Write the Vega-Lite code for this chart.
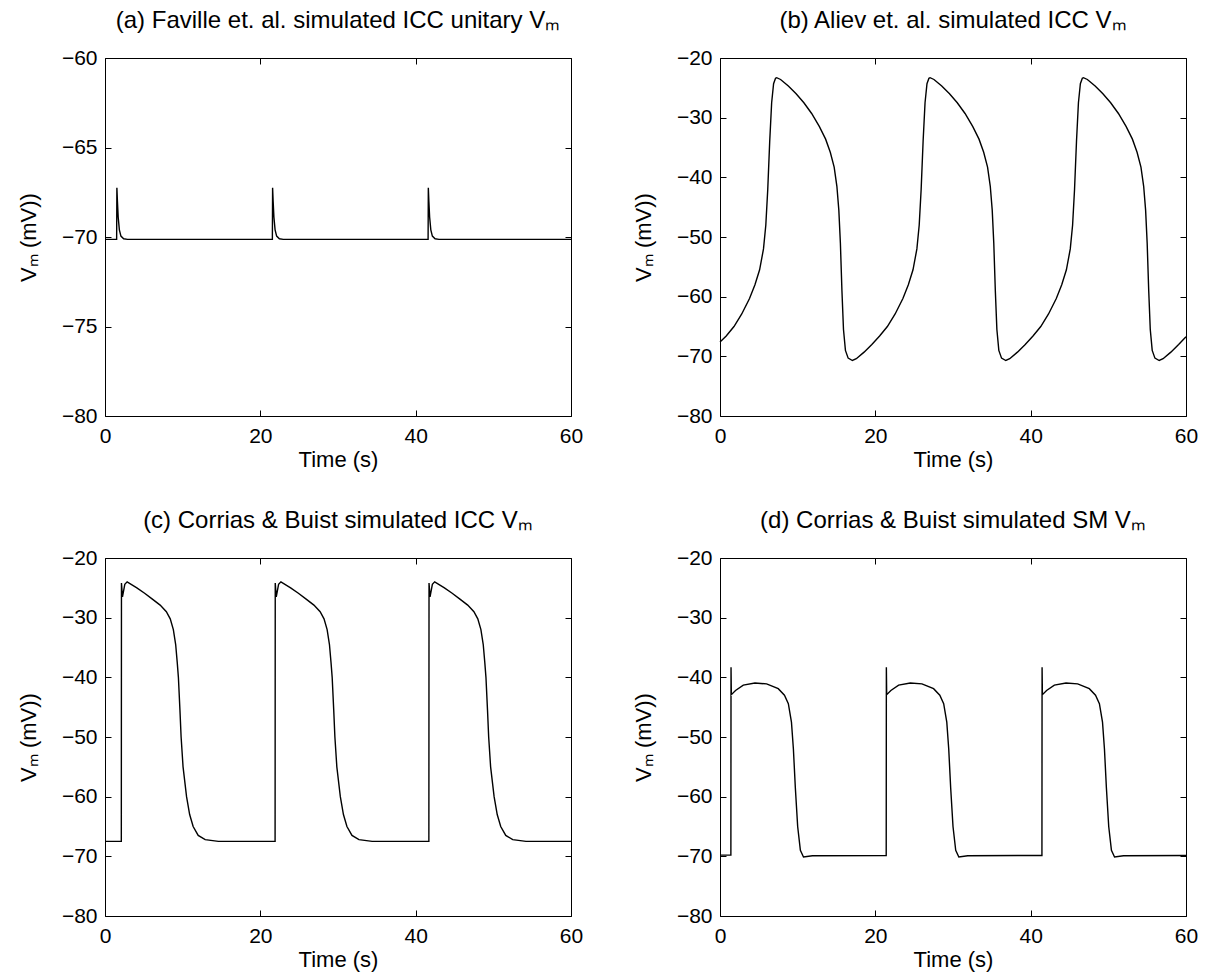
{
  "$schema": "https://vega.github.io/schema/vega-lite/v6.json",
  "padding": {"left": 16, "top": 8, "right": 5, "bottom": 5},
  "background": "white",
  "datasets": {
    "a": [
      {"t": 0, "v": -70.13}, {"t": 1.5, "v": -70.13}, {"t": 1.53, "v": -67.25}, {"t": 1.6, "v": -68.0}, {"t": 1.7, "v": -68.9}, {"t": 1.85, "v": -69.6}, {"t": 2.05, "v": -69.95}, {"t": 2.4, "v": -70.1}, {"t": 2.9, "v": -70.13},
      {"t": 21.55, "v": -70.13}, {"t": 21.58, "v": -67.25}, {"t": 21.65, "v": -68.0}, {"t": 21.75, "v": -68.9}, {"t": 21.9, "v": -69.6}, {"t": 22.1, "v": -69.95}, {"t": 22.45, "v": -70.1}, {"t": 22.95, "v": -70.13},
      {"t": 41.6, "v": -70.13}, {"t": 41.63, "v": -67.25}, {"t": 41.7, "v": -68.0}, {"t": 41.8, "v": -68.9}, {"t": 41.95, "v": -69.6}, {"t": 42.15, "v": -69.95}, {"t": 42.5, "v": -70.1}, {"t": 43.0, "v": -70.13},
      {"t": 60, "v": -70.13}
    ],
    "b": [
      {"t": 0, "v": -67.6}, {"t": 0.8, "v": -66.6}, {"t": 1.8, "v": -65.0}, {"t": 2.8, "v": -62.9}, {"t": 3.8, "v": -60.3}, {"t": 4.5, "v": -58.0}, {"t": 5.1, "v": -55.5}, {"t": 5.6, "v": -52}, {"t": 5.9, "v": -48}, {"t": 6.15, "v": -42}, {"t": 6.4, "v": -34}, {"t": 6.65, "v": -27.5}, {"t": 6.9, "v": -24.3}, {"t": 7.15, "v": -23.4}, {"t": 7.3, "v": -23.3},
      {"t": 7.8, "v": -23.6}, {"t": 8.8, "v": -24.7}, {"t": 9.8, "v": -26.0}, {"t": 10.8, "v": -27.5}, {"t": 11.8, "v": -29.3}, {"t": 12.8, "v": -31.5}, {"t": 13.6, "v": -33.6}, {"t": 14.2, "v": -35.8}, {"t": 14.7, "v": -38.3}, {"t": 15.05, "v": -41.5}, {"t": 15.3, "v": -45.5}, {"t": 15.5, "v": -51}, {"t": 15.7, "v": -59}, {"t": 15.9, "v": -65.5}, {"t": 16.15, "v": -69.0}, {"t": 16.5, "v": -70.3}, {"t": 17.05, "v": -70.7},
      {"t": 17.55, "v": -70.4}, {"t": 18.55, "v": -69.3}, {"t": 19.55, "v": -68.0}, {"t": 20.55, "v": -66.6}, {"t": 21.55, "v": -65.0}, {"t": 22.55, "v": -62.9}, {"t": 23.55, "v": -60.3}, {"t": 24.25, "v": -58.0}, {"t": 24.85, "v": -55.5}, {"t": 25.35, "v": -52}, {"t": 25.65, "v": -48}, {"t": 25.9, "v": -42}, {"t": 26.15, "v": -34}, {"t": 26.4, "v": -27.5}, {"t": 26.65, "v": -24.3}, {"t": 26.9, "v": -23.4}, {"t": 27.05, "v": -23.3},
      {"t": 27.55, "v": -23.6}, {"t": 28.55, "v": -24.7}, {"t": 29.55, "v": -26.0}, {"t": 30.55, "v": -27.5}, {"t": 31.55, "v": -29.3}, {"t": 32.55, "v": -31.5}, {"t": 33.35, "v": -33.6}, {"t": 33.95, "v": -35.8}, {"t": 34.45, "v": -38.3}, {"t": 34.8, "v": -41.5}, {"t": 35.05, "v": -45.5}, {"t": 35.25, "v": -51}, {"t": 35.45, "v": -59}, {"t": 35.65, "v": -65.5}, {"t": 35.9, "v": -69.0}, {"t": 36.25, "v": -70.3}, {"t": 36.8, "v": -70.7},
      {"t": 37.3, "v": -70.4}, {"t": 38.3, "v": -69.3}, {"t": 39.3, "v": -68.0}, {"t": 40.3, "v": -66.6}, {"t": 41.3, "v": -65.0}, {"t": 42.3, "v": -62.9}, {"t": 43.3, "v": -60.3}, {"t": 44.0, "v": -58.0}, {"t": 44.6, "v": -55.5}, {"t": 45.1, "v": -52}, {"t": 45.4, "v": -48}, {"t": 45.65, "v": -42}, {"t": 45.9, "v": -34}, {"t": 46.15, "v": -27.5}, {"t": 46.4, "v": -24.3}, {"t": 46.65, "v": -23.4}, {"t": 46.8, "v": -23.3},
      {"t": 47.3, "v": -23.6}, {"t": 48.3, "v": -24.7}, {"t": 49.3, "v": -26.0}, {"t": 50.3, "v": -27.5}, {"t": 51.3, "v": -29.3}, {"t": 52.3, "v": -31.5}, {"t": 53.1, "v": -33.6}, {"t": 53.7, "v": -35.8}, {"t": 54.2, "v": -38.3}, {"t": 54.55, "v": -41.5}, {"t": 54.8, "v": -45.5}, {"t": 55.0, "v": -51}, {"t": 55.2, "v": -59}, {"t": 55.4, "v": -65.5}, {"t": 55.65, "v": -69.0}, {"t": 56.0, "v": -70.3}, {"t": 56.55, "v": -70.7},
      {"t": 57.05, "v": -70.4}, {"t": 58.05, "v": -69.3}, {"t": 59.05, "v": -68.0}, {"t": 60, "v": -66.7}
    ],
    "c": [
      {"t": 0, "v": -67.5}, {"t": 2.1, "v": -67.5}, {"t": 2.12, "v": -24.2}, {"t": 2.25, "v": -26.5}, {"t": 2.55, "v": -24.4}, {"t": 2.85, "v": -24.0}, {"t": 4.1, "v": -25.0}, {"t": 5.1, "v": -25.9}, {"t": 6.1, "v": -26.9}, {"t": 7.1, "v": -27.9}, {"t": 7.9, "v": -29.0}, {"t": 8.4, "v": -30.2}, {"t": 8.8, "v": -32.0}, {"t": 9.1, "v": -34.5}, {"t": 9.3, "v": -37.5}, {"t": 9.45, "v": -40}, {"t": 9.65, "v": -45.5}, {"t": 9.8, "v": -50}, {"t": 10.05, "v": -55}, {"t": 10.5, "v": -60}, {"t": 10.9, "v": -63}, {"t": 11.35, "v": -65}, {"t": 12.0, "v": -66.5}, {"t": 12.9, "v": -67.2}, {"t": 14.6, "v": -67.5},
      {"t": 21.9, "v": -67.5}, {"t": 21.92, "v": -24.2}, {"t": 22.05, "v": -26.5}, {"t": 22.35, "v": -24.4}, {"t": 22.65, "v": -24.0}, {"t": 23.9, "v": -25.0}, {"t": 24.9, "v": -25.9}, {"t": 25.9, "v": -26.9}, {"t": 26.9, "v": -27.9}, {"t": 27.7, "v": -29.0}, {"t": 28.2, "v": -30.2}, {"t": 28.6, "v": -32.0}, {"t": 28.9, "v": -34.5}, {"t": 29.1, "v": -37.5}, {"t": 29.25, "v": -40}, {"t": 29.45, "v": -45.5}, {"t": 29.6, "v": -50}, {"t": 29.85, "v": -55}, {"t": 30.3, "v": -60}, {"t": 30.7, "v": -63}, {"t": 31.15, "v": -65}, {"t": 31.8, "v": -66.5}, {"t": 32.7, "v": -67.2}, {"t": 34.4, "v": -67.5},
      {"t": 41.7, "v": -67.5}, {"t": 41.72, "v": -24.2}, {"t": 41.85, "v": -26.5}, {"t": 42.15, "v": -24.4}, {"t": 42.45, "v": -24.0}, {"t": 43.7, "v": -25.0}, {"t": 44.7, "v": -25.9}, {"t": 45.7, "v": -26.9}, {"t": 46.7, "v": -27.9}, {"t": 47.5, "v": -29.0}, {"t": 48.0, "v": -30.2}, {"t": 48.4, "v": -32.0}, {"t": 48.7, "v": -34.5}, {"t": 48.9, "v": -37.5}, {"t": 49.05, "v": -40}, {"t": 49.25, "v": -45.5}, {"t": 49.4, "v": -50}, {"t": 49.65, "v": -55}, {"t": 50.1, "v": -60}, {"t": 50.5, "v": -63}, {"t": 50.95, "v": -65}, {"t": 51.6, "v": -66.5}, {"t": 52.5, "v": -67.2}, {"t": 54.2, "v": -67.5},
      {"t": 60, "v": -67.5}
    ],
    "d": [
      {"t": 0, "v": -69.8}, {"t": 1.4, "v": -69.8}, {"t": 1.42, "v": -38.3}, {"t": 1.46, "v": -42.9}, {"t": 2.0, "v": -42.2}, {"t": 3.0, "v": -41.3}, {"t": 4.5, "v": -40.95}, {"t": 6.0, "v": -41.1}, {"t": 7.5, "v": -41.9}, {"t": 8.3, "v": -43.0}, {"t": 8.8, "v": -44.4}, {"t": 9.2, "v": -47.5}, {"t": 9.45, "v": -52}, {"t": 9.7, "v": -58.5}, {"t": 10.0, "v": -65.0}, {"t": 10.35, "v": -69.0}, {"t": 10.75, "v": -70.1}, {"t": 11.9, "v": -69.9},
      {"t": 21.4, "v": -69.85}, {"t": 21.42, "v": -38.3}, {"t": 21.46, "v": -42.9}, {"t": 22.0, "v": -42.2}, {"t": 23.0, "v": -41.3}, {"t": 24.5, "v": -40.95}, {"t": 26.0, "v": -41.1}, {"t": 27.5, "v": -41.9}, {"t": 28.3, "v": -43.0}, {"t": 28.8, "v": -44.4}, {"t": 29.2, "v": -47.5}, {"t": 29.45, "v": -52}, {"t": 29.7, "v": -58.5}, {"t": 30.0, "v": -65.0}, {"t": 30.35, "v": -69.0}, {"t": 30.75, "v": -70.1}, {"t": 31.9, "v": -69.9},
      {"t": 41.45, "v": -69.85}, {"t": 41.47, "v": -38.3}, {"t": 41.51, "v": -42.9}, {"t": 42.05, "v": -42.2}, {"t": 43.05, "v": -41.3}, {"t": 44.55, "v": -40.95}, {"t": 46.05, "v": -41.1}, {"t": 47.55, "v": -41.9}, {"t": 48.35, "v": -43.0}, {"t": 48.85, "v": -44.4}, {"t": 49.25, "v": -47.5}, {"t": 49.5, "v": -52}, {"t": 49.75, "v": -58.5}, {"t": 50.05, "v": -65.0}, {"t": 50.4, "v": -69.0}, {"t": 50.8, "v": -70.1}, {"t": 51.95, "v": -69.9},
      {"t": 60, "v": -69.85}
    ]
  },
  "columns": 2,
  "spacing": {"column": 47, "row": 37},
  "concat": [
    {
      "width": 466, "height": 358,
      "title": "(a) Faville et. al. simulated ICC unitary Vₘ",
      "data": {"name": "a"},
      "layer": [
        {"mark": {"type": "line", "color": "black", "strokeWidth": 1.4},
         "encoding": {
           "x": {"field": "t", "type": "quantitative", "scale": {"domain": [0, 60], "nice": false}, "axis": {"orient": "bottom", "values": [0, 20, 40, 60], "title": "Time (s)"}},
           "y": {"field": "v", "type": "quantitative", "scale": {"domain": [-80, -60], "nice": false, "zero": false}, "axis": {"orient": "left", "values": [-80, -75, -70, -65, -60], "title": "Vₘ (mV))"}}
         }},
        {"mark": {"type": "line", "strokeOpacity": 0},
         "encoding": {
           "x": {"field": "t", "type": "quantitative", "axis": {"orient": "top", "values": [0, 20, 40, 60], "labels": false, "title": null}},
           "y": {"field": "v", "type": "quantitative", "axis": {"orient": "right", "values": [-80, -75, -70, -65, -60], "labels": false, "title": null}}
         }}
      ],
      "resolve": {"axis": {"x": "independent", "y": "independent"}}
    },
    {
      "width": 466, "height": 358,
      "title": "(b) Aliev et. al. simulated ICC Vₘ",
      "data": {"name": "b"},
      "layer": [
        {"mark": {"type": "line", "color": "black", "strokeWidth": 1.4},
         "encoding": {
           "x": {"field": "t", "type": "quantitative", "scale": {"domain": [0, 60], "nice": false}, "axis": {"orient": "bottom", "values": [0, 20, 40, 60], "title": "Time (s)"}},
           "y": {"field": "v", "type": "quantitative", "scale": {"domain": [-80, -20], "nice": false, "zero": false}, "axis": {"orient": "left", "values": [-80, -70, -60, -50, -40, -30, -20], "title": "Vₘ (mV))"}}
         }},
        {"mark": {"type": "line", "strokeOpacity": 0},
         "encoding": {
           "x": {"field": "t", "type": "quantitative", "axis": {"orient": "top", "values": [0, 20, 40, 60], "labels": false, "title": null}},
           "y": {"field": "v", "type": "quantitative", "axis": {"orient": "right", "values": [-80, -70, -60, -50, -40, -30, -20], "labels": false, "title": null}}
         }}
      ],
      "resolve": {"axis": {"x": "independent", "y": "independent"}}
    },
    {
      "width": 466, "height": 358,
      "title": "(c) Corrias & Buist simulated ICC Vₘ",
      "data": {"name": "c"},
      "layer": [
        {"mark": {"type": "line", "color": "black", "strokeWidth": 1.4},
         "encoding": {
           "x": {"field": "t", "type": "quantitative", "scale": {"domain": [0, 60], "nice": false}, "axis": {"orient": "bottom", "values": [0, 20, 40, 60], "title": "Time (s)"}},
           "y": {"field": "v", "type": "quantitative", "scale": {"domain": [-80, -20], "nice": false, "zero": false}, "axis": {"orient": "left", "values": [-80, -70, -60, -50, -40, -30, -20], "title": "Vₘ (mV))"}}
         }},
        {"mark": {"type": "line", "strokeOpacity": 0},
         "encoding": {
           "x": {"field": "t", "type": "quantitative", "axis": {"orient": "top", "values": [0, 20, 40, 60], "labels": false, "title": null}},
           "y": {"field": "v", "type": "quantitative", "axis": {"orient": "right", "values": [-80, -70, -60, -50, -40, -30, -20], "labels": false, "title": null}}
         }}
      ],
      "resolve": {"axis": {"x": "independent", "y": "independent"}}
    },
    {
      "width": 466, "height": 358,
      "title": "(d) Corrias & Buist simulated SM Vₘ",
      "data": {"name": "d"},
      "layer": [
        {"mark": {"type": "line", "color": "black", "strokeWidth": 1.4},
         "encoding": {
           "x": {"field": "t", "type": "quantitative", "scale": {"domain": [0, 60], "nice": false}, "axis": {"orient": "bottom", "values": [0, 20, 40, 60], "title": "Time (s)"}},
           "y": {"field": "v", "type": "quantitative", "scale": {"domain": [-80, -20], "nice": false, "zero": false}, "axis": {"orient": "left", "values": [-80, -70, -60, -50, -40, -30, -20], "title": "Vₘ (mV))"}}
         }},
        {"mark": {"type": "line", "strokeOpacity": 0},
         "encoding": {
           "x": {"field": "t", "type": "quantitative", "axis": {"orient": "top", "values": [0, 20, 40, 60], "labels": false, "title": null}},
           "y": {"field": "v", "type": "quantitative", "axis": {"orient": "right", "values": [-80, -70, -60, -50, -40, -30, -20], "labels": false, "title": null}}
         }}
      ],
      "resolve": {"axis": {"x": "independent", "y": "independent"}}
    }
  ],
  "config": {
    "font": "Liberation Sans",
    "view": {"stroke": "black", "strokeWidth": 1},
    "axis": {
      "domain": false, "grid": false, "ticks": true, "tickSize": -6, "tickColor": "black", "tickWidth": 1,
      "labelPadding": 14, "labelFontSize": 21, "labelColor": "black", "labelFont": "Liberation Sans",
      "labelFlush": false, "labelOverlap": false,
      "titleFontSize": 22, "titleFontWeight": "normal", "titleColor": "black", "titleFont": "Liberation Sans"
    },
    "axisX": {"titlePadding": 3, "labelPadding": 15},
    "axisY": {"titlePadding": 21},
    "title": {"fontSize": 24, "fontWeight": "normal", "color": "black", "font": "Liberation Sans", "offset": 14}
  }
}
